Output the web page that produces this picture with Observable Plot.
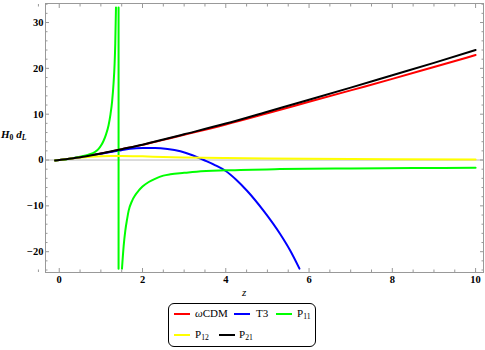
<!DOCTYPE html>
<html><head><meta charset="utf-8">
<script src="https://cdn.jsdelivr.net/npm/d3@7"></script>
<script src="https://cdn.jsdelivr.net/npm/@observablehq/plot@0.6"></script>
<style>
body{margin:0;background:#fff;}
#wrap{position:relative;width:485px;height:350px;font-family:"Liberation Serif","Times New Roman",serif;color:#000;}
#ylab{position:absolute;left:1px;top:128px;font-size:11px;font-weight:bold;white-space:nowrap;}
#xlab{position:absolute;left:242px;top:286px;font-size:11px;font-style:italic;}
#legend{position:absolute;left:168px;top:303px;width:146px;height:42px;border:1px solid #000;border-radius:6px;font-size:11px;}
.sw{position:absolute;height:2px;width:16px;}
.lt{position:absolute;white-space:nowrap;line-height:12px;}
sub{font-size:70%;vertical-align:-2px;line-height:0;}
</style></head><body><div id="wrap">
<div id="ylab"><i>H</i><sub>0</sub> <i>d</i><sub><i>L</i></sub></div>
<div id="xlab">z</div>
<div id="legend"></div>
</div>
<script>
// ---- data ----
const seriesNames = ["ωCDM", "T3", "P11", "P12", "P21"];
const seriesColors = ["#ff0000", "#0000ff", "#00ff00", "#ffff00", "#000000"];

const wcdmZ = [-0.1, 0, 0.25, 0.5, 0.75, 1, 1.5, 2, 2.5, 3, 4, 5, 6, 7, 8, 9, 10];
const wcdmY = [-0.1, 0, 0.27, 0.6, 0.98, 1.4, 2.35, 3.3, 4.4, 5.5, 7.75, 10.2, 12.7, 15.2, 17.7, 20.3, 22.9];

const t3Z = [-0.1, 0, 0.25, 0.5, 0.75, 1, 1.2, 1.43, 1.7, 2.0, 2.3, 2.6, 2.91, 3.2, 3.47, 3.75, 3.99, 4.25, 4.51, 4.91, 5.31, 5.55, 5.77];
const t3Y = [-0.1, 0, 0.27, 0.6, 0.97, 1.35, 1.7, 2.05, 2.45, 2.6, 2.6, 2.4, 1.9, 1.05, 0, -1.15, -2.34, -4.3, -6.7, -11.1, -16.2, -19.8, -23.7];

// NaN marks the breaks of the P11 curve around its pole
const p11Z = [-0.1, 0, 0.25, 0.5, 0.7, 0.865, 0.95, 1.0, 1.065, 1.12, 1.185, 1.23, 1.27, 1.305, 1.33, 1.346, 1.363, NaN,
  1.425, 1.425, NaN,
  1.507, 1.547, 1.587, 1.63, 1.666, 1.75, 1.83, 1.906, 2.0, 2.15, 2.3, 2.5, 2.67, 3.0, 3.3, 4, 5.3, 7, 8.5, 10];
const p11Y = [-0.1, 0, 0.3, 0.72, 1.15, 1.8, 2.5, 3.1, 4.2, 5.5, 7.6, 9.9, 12.8, 16.8, 21, 25.5, 33.3, NaN,
  33.3, -23.7, NaN,
  -23.7, -18.8, -15.4, -12.9, -11.1, -8.9, -7.6, -6.7, -5.8, -4.8, -4.1, -3.4, -3.1, -2.8, -2.55, -2.25, -1.97, -1.83, -1.76, -1.7];

const p12Z = [-0.1, 0, 0.25, 0.5, 0.75, 1, 1.25, 1.5, 2, 2.5, 3, 4, 5, 6, 8, 10];
const p12Y = [-0.1, 0, 0.27, 0.55, 0.74, 0.85, 0.9, 0.9, 0.8, 0.65, 0.55, 0.42, 0.33, 0.26, 0.16, 0.1];

const p21Z = [-0.1, 0, 0.25, 0.5, 0.75, 1, 1.5, 2, 2.5, 3, 4, 5, 6, 7, 8, 9, 10];
const p21Y = [-0.1, 0, 0.27, 0.6, 0.98, 1.4, 2.37, 3.35, 4.47, 5.62, 7.95, 10.55, 13.15, 15.8, 18.5, 21.2, 24.0];

const xMajor = [0, 2, 4, 6, 8, 10];
const xMinor = [-0.5, 0.5, 1, 1.5, 2.5, 3, 3.5, 4.5, 5, 5.5, 6.5, 7, 7.5, 8.5, 9, 9.5];
const yMajor = [-20, -10, 0, 10, 20, 30];
const yMinor = [-24, -22, -18, -16, -14, -12, -8, -6, -4, -2, 2, 4, 6, 8, 12, 14, 16, 18, 22, 24, 26, 28, 32, 34];

// ---- build tables ----
const zs = [wcdmZ, t3Z, p11Z, p12Z, p21Z];
const ys = [wcdmY, t3Y, p11Y, p12Y, p21Y];
const lineMarks = seriesNames.map((name, i) => {
  const rows = zs[i].map((z, j) => ({z, v: ys[i][j], name}));
  return Plot.line(rows, {x: "z", y: "v", stroke: seriesColors[i], strokeWidth: 2, curve: "monotone-x"});
});

const frameGray = "#999";
const axisCommon = {label: null, stroke: frameGray, fill: "black"};

const plot = Plot.plot({
  width: 485, height: 300,
  marginLeft: 45, marginRight: 2, marginTop: 3, marginBottom: 28,
  x: {domain: [-0.33, 10.19]},
  y: {domain: [-24.54, 34.15]},
  style: {fontFamily: "'Liberation Serif', serif", fontSize: "10.5px", fontWeight: "bold", background: "white", color: "black", overflow: "visible"},
  marks: [
    Plot.ruleY([0], {stroke: "#b8b8b8", strokeWidth: 1}),
    ...lineMarks,
    Plot.frame({stroke: frameGray}),
    Plot.axisX(xMajor, {...axisCommon, anchor: "bottom", tickSize: -4, tickPadding: 7}),
    Plot.axisX(xMinor, {...axisCommon, anchor: "bottom", tickSize: -2.5, tickFormat: () => ""}),
    Plot.axisX(xMajor, {...axisCommon, anchor: "top", tickSize: -4, tickFormat: () => ""}),
    Plot.axisX(xMinor, {...axisCommon, anchor: "top", tickSize: -2.5, tickFormat: () => ""}),
    Plot.axisY(yMajor, {...axisCommon, anchor: "left", tickSize: -4, tickPadding: 6}),
    Plot.axisY(yMinor, {...axisCommon, anchor: "left", tickSize: -2.5, tickFormat: () => ""}),
    Plot.axisY(yMajor, {...axisCommon, anchor: "right", tickSize: -4, tickFormat: () => ""}),
    Plot.axisY(yMinor, {...axisCommon, anchor: "right", tickSize: -2.5, tickFormat: () => ""})
  ]
});
plot.style.position = "absolute";
plot.style.left = "0px";
plot.style.top = "0px";
document.getElementById("wrap").prepend(plot);

// ---- legend ----
const legendItems = [
  {i: 0, sx: 5, tx: 26, y: 10, html: "<i>ω</i>CDM"},
  {i: 1, sx: 65, tx: 87, y: 10, html: "T3"},
  {i: 2, sx: 107, tx: 128, y: 10, html: "P<sub>11</sub>"},
  {i: 3, sx: 5, tx: 26, y: 31, html: "P<sub>12</sub>"},
  {i: 4, sx: 50, tx: 70, y: 31, html: "P<sub>21</sub>"}
];
const lg = document.getElementById("legend");
legendItems.forEach(it => {
  const s = document.createElement("div");
  s.className = "sw";
  s.style.left = it.sx + "px";
  s.style.top = (it.y - 1) + "px";
  s.style.background = seriesColors[it.i];
  lg.appendChild(s);
  const t = document.createElement("div");
  t.className = "lt";
  t.style.left = it.tx + "px";
  t.style.top = (it.y - 7) + "px";
  t.innerHTML = it.html;
  lg.appendChild(t);
});
</script>
</body></html>
